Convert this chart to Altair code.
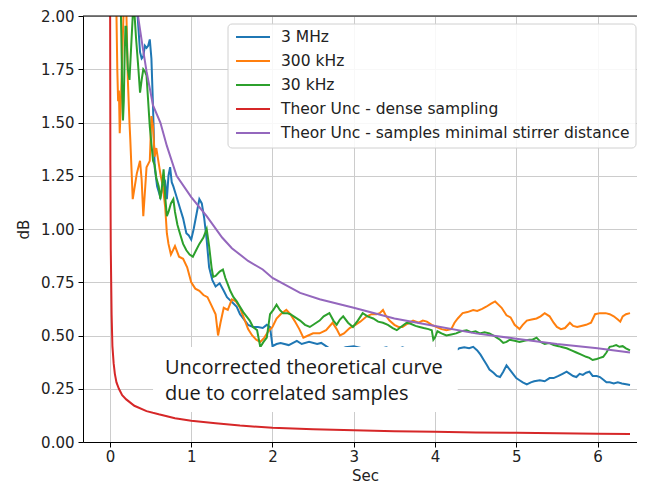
import altair as alt
import pandas as pd

# ---------------- data ----------------
x_domain = [-0.332, 6.486]
y_domain = [0.0, 2.0]
x_ticks = [0, 1, 2, 3, 4, 5, 6]
y_ticks = [0.0, 0.25, 0.5, 0.75, 1.0, 1.25, 1.5, 1.75, 2.0]

series_names = ["3 MHz", "300 kHz", "30 kHz", "Theor Unc - dense sampling",
                "Theor Unc - samples minimal stirrer distance"]
series_colors = ["#1f77b4", "#ff7f0e", "#2ca02c", "#d62728", "#9467bd"]

mhz3_x = [0.32, 0.34, 0.37, 0.39, 0.41, 0.43, 0.45, 0.47, 0.49, 0.51, 0.53, 0.55, 0.58, 0.62, 0.65,
          0.68, 0.70, 0.72, 0.74, 0.76, 0.78, 0.82, 0.86, 0.90, 0.94, 0.97, 1.00, 1.03, 1.06, 1.10,
          1.13, 1.16, 1.19, 1.22, 1.26, 1.30, 1.35, 1.40, 1.44, 1.48, 1.52, 1.56, 1.60, 1.64, 1.70,
          1.76, 1.82, 1.88, 1.93, 1.97, 2.00, 2.05, 2.10, 2.20, 2.30, 2.36, 2.45, 2.55, 2.60, 2.70,
          2.80, 2.90, 3.00, 3.10, 3.20, 3.30, 3.40, 3.50, 3.60, 3.70, 3.80, 3.90, 4.00, 4.10, 4.20,
          4.28, 4.30, 4.36, 4.42, 4.47, 4.52, 4.56, 4.60, 4.64, 4.67, 4.72, 4.76, 4.80, 4.84, 4.88,
          4.92, 4.96, 5.00, 5.04, 5.08, 5.13, 5.18, 5.22, 5.29, 5.35, 5.41, 5.46, 5.52, 5.57, 5.62,
          5.66, 5.70, 5.74, 5.78, 5.82, 5.86, 5.90, 5.94, 5.99, 6.03, 6.08, 6.11, 6.15, 6.20, 6.25,
          6.30, 6.37, 6.40]
mhz3_y = [2.10, 2.00, 1.83, 1.80, 1.81, 1.86, 1.85, 1.86, 1.89, 1.80, 1.57, 1.29, 1.20, 1.15, 1.20,
          1.22, 1.14, 1.25, 1.29, 1.22, 1.20, 1.15, 1.10, 1.05, 0.98, 0.97, 0.95, 1.00, 1.06, 1.14,
          1.12, 1.05, 0.95, 0.82, 0.76, 0.73, 0.745, 0.71, 0.68, 0.665, 0.65, 0.635, 0.60, 0.58, 0.55,
          0.54, 0.54, 0.535, 0.55, 0.54, 0.45, 0.46, 0.465, 0.455, 0.475, 0.46, 0.47, 0.46, 0.465, 0.44,
          0.43, 0.445, 0.45, 0.44, 0.43, 0.435, 0.445, 0.43, 0.445, 0.43, 0.42, 0.425, 0.43, 0.44, 0.43,
          0.435, 0.44, 0.445, 0.44, 0.447, 0.43, 0.41, 0.385, 0.36, 0.34, 0.325, 0.31, 0.305, 0.33, 0.36,
          0.34, 0.32, 0.30, 0.29, 0.28, 0.27, 0.28, 0.285, 0.29, 0.285, 0.30, 0.30, 0.31, 0.32, 0.33,
          0.32, 0.31, 0.305, 0.32, 0.315, 0.325, 0.33, 0.31, 0.31, 0.305, 0.29, 0.28, 0.28, 0.275, 0.28,
          0.275, 0.27, 0.268]

khz300_x = [0.06, 0.08, 0.09, 0.10, 0.11, 0.12, 0.13, 0.15, 0.17, 0.20, 0.22, 0.24, 0.25, 0.28, 0.33,
            0.37, 0.39, 0.41, 0.45, 0.49, 0.51, 0.53, 0.55, 0.57, 0.62, 0.65, 0.68, 0.70, 0.72, 0.75,
            0.80, 0.85, 0.90, 0.95, 1.00, 1.05, 1.10, 1.15, 1.20, 1.25, 1.30, 1.33, 1.36, 1.40, 1.45,
            1.50, 1.55, 1.60, 1.65, 1.70, 1.75, 1.80, 1.85, 1.90, 1.95, 2.00, 2.05, 2.10, 2.17, 2.22,
            2.27, 2.33, 2.38, 2.44, 2.50, 2.58, 2.66, 2.74, 2.79, 2.83, 2.88, 2.95, 3.02, 3.08, 3.16,
            3.22, 3.28, 3.32, 3.36, 3.40, 3.44, 3.50, 3.55, 3.60, 3.66, 3.73, 3.80, 3.85, 3.90, 3.96,
            4.02, 4.08, 4.14, 4.20, 4.24, 4.28, 4.34, 4.40, 4.47, 4.52, 4.58, 4.63, 4.69, 4.74, 4.78,
            4.82, 4.88, 4.93, 4.98, 5.04, 5.08, 5.13, 5.19, 5.25, 5.30, 5.35, 5.41, 5.46, 5.50, 5.55,
            5.60, 5.66, 5.70, 5.75, 5.80, 5.86, 5.92, 5.97, 6.03, 6.10, 6.15, 6.20, 6.25, 6.28, 6.31,
            6.35, 6.40]
khz300_y = [2.30, 2.00, 1.75, 1.60, 1.65, 1.45, 1.55, 1.80, 2.05, 2.05, 1.70, 1.50, 1.42, 1.14, 1.26,
            1.32, 1.23, 1.06, 1.29, 1.32, 1.53, 1.48, 1.34, 1.38, 1.26, 1.20, 1.10, 0.98, 0.93, 0.88,
            0.92, 0.87, 0.86, 0.82, 0.75, 0.72, 0.71, 0.69, 0.68, 0.64, 0.60, 0.50, 0.56, 0.63, 0.62,
            0.67, 0.66, 0.63, 0.58, 0.53, 0.50, 0.48, 0.47, 0.49, 0.52, 0.54, 0.58, 0.60, 0.62, 0.60,
            0.57, 0.53, 0.49, 0.50, 0.51, 0.51, 0.525, 0.56, 0.53, 0.50, 0.51, 0.535, 0.55, 0.565, 0.59,
            0.60, 0.60, 0.605, 0.62, 0.59, 0.57, 0.55, 0.54, 0.54, 0.555, 0.57, 0.56, 0.57, 0.565, 0.55,
            0.54, 0.53, 0.525, 0.53, 0.56, 0.58, 0.605, 0.61, 0.62, 0.615, 0.625, 0.635, 0.65, 0.66, 0.645,
            0.63, 0.595, 0.585, 0.55, 0.53, 0.55, 0.57, 0.575, 0.58, 0.59, 0.605, 0.59, 0.56, 0.54, 0.53,
            0.535, 0.56, 0.545, 0.54, 0.545, 0.55, 0.56, 0.60, 0.605, 0.605, 0.60, 0.59, 0.575, 0.565, 0.59,
            0.60, 0.605]

khz30_x = [0.12, 0.14, 0.15, 0.16, 0.17, 0.18, 0.19, 0.20, 0.22, 0.24, 0.26, 0.28, 0.30, 0.32, 0.33,
           0.35, 0.37, 0.39, 0.41, 0.43, 0.45, 0.47, 0.49, 0.51, 0.53, 0.55, 0.57, 0.60, 0.62, 0.64,
           0.66, 0.68, 0.70, 0.72, 0.75, 0.78, 0.80, 0.83, 0.86, 0.90, 0.94, 0.98, 1.02, 1.06, 1.10,
           1.15, 1.19, 1.22, 1.25, 1.27, 1.30, 1.35, 1.39, 1.42, 1.45, 1.48, 1.52, 1.56, 1.60, 1.64,
           1.68, 1.72, 1.76, 1.81, 1.85, 1.89, 1.93, 1.97, 2.01, 2.05, 2.09, 2.13, 2.18, 2.22, 2.28,
           2.34, 2.40, 2.46, 2.52, 2.58, 2.63, 2.70, 2.75, 2.79, 2.83, 2.87, 2.93, 2.99, 3.05, 3.11,
           3.17, 3.24, 3.30, 3.36, 3.42, 3.48, 3.53, 3.58, 3.65, 3.70, 3.76, 3.81, 3.86, 3.92, 3.96,
           3.98, 4.00, 4.03, 4.08, 4.14, 4.20, 4.26, 4.32, 4.39, 4.45, 4.50, 4.55, 4.61, 4.67, 4.72,
           4.76, 4.80, 4.84, 4.88, 4.92, 4.98, 5.04, 5.10, 5.16, 5.20, 5.25, 5.30, 5.35, 5.40, 5.46,
           5.52, 5.57, 5.62, 5.68, 5.74, 5.80, 5.86, 5.90, 5.94, 5.99, 6.03, 6.07, 6.11, 6.15, 6.19,
           6.23, 6.27, 6.31, 6.35, 6.40]
khz30_y = [2.30, 1.90, 1.65, 1.51, 1.60, 1.80, 1.95, 1.95, 1.75, 1.70, 1.85, 2.00, 2.02, 1.90, 1.85,
           1.75, 1.64, 1.70, 1.75, 1.74, 1.72, 1.60, 1.48, 1.40, 1.32, 1.30, 1.24, 1.20, 1.14, 1.20,
           1.28, 1.15, 1.06, 1.08, 1.12, 1.14, 1.08, 1.02, 0.98, 0.93, 0.90, 0.88, 0.87, 0.90, 0.93,
           0.96, 1.00, 0.92, 0.82, 0.775, 0.78, 0.80, 0.81, 0.77, 0.74, 0.71, 0.68, 0.66, 0.635, 0.61,
           0.59, 0.57, 0.54, 0.525, 0.446, 0.47, 0.49, 0.60, 0.62, 0.645, 0.62, 0.605, 0.605, 0.60, 0.585,
           0.57, 0.55, 0.54, 0.555, 0.57, 0.59, 0.605, 0.57, 0.55, 0.575, 0.59, 0.56, 0.54, 0.57, 0.605,
           0.59, 0.58, 0.565, 0.56, 0.55, 0.535, 0.525, 0.54, 0.56, 0.555, 0.545, 0.54, 0.535, 0.53, 0.525,
           0.48, 0.49, 0.52, 0.51, 0.50, 0.505, 0.51, 0.52, 0.525, 0.515, 0.52, 0.51, 0.515, 0.51, 0.50,
           0.49, 0.48, 0.465, 0.47, 0.48, 0.475, 0.47, 0.475, 0.48, 0.48, 0.49, 0.47, 0.46, 0.465, 0.455,
           0.45, 0.445, 0.44, 0.43, 0.42, 0.41, 0.40, 0.395, 0.385, 0.39, 0.395, 0.40, 0.42, 0.447, 0.45,
           0.455, 0.447, 0.45, 0.44, 0.43]

dense_x = [0.0, 0.002, 0.005, 0.01, 0.02, 0.03, 0.045, 0.06, 0.08, 0.11, 0.15, 0.20, 0.30, 0.45, 0.60,
           0.80, 1.0, 1.3, 1.6, 2.0, 2.5, 3.0, 3.5, 4.0, 4.5, 5.0, 5.5, 6.0, 6.4]
dense_y = [3.0, 2.0, 1.3, 0.9, 0.6, 0.45, 0.37, 0.32, 0.28, 0.25, 0.22, 0.20, 0.17, 0.145, 0.13,
           0.112, 0.10, 0.088, 0.077, 0.067, 0.060, 0.055, 0.051, 0.048, 0.045, 0.043, 0.041, 0.039, 0.038]

minimal_x = [0.30, 0.345, 0.40, 0.45, 0.53, 0.62, 0.70, 0.82, 1.00, 1.19, 1.38, 1.50, 1.70, 1.88, 2.00,
             2.34, 2.58, 3.00, 3.50, 4.00, 4.50, 5.00, 5.50, 6.00, 6.40]
minimal_y = [2.20, 2.00, 1.86, 1.74, 1.58, 1.50, 1.39, 1.25, 1.15, 1.06, 0.96, 0.91, 0.85, 0.81, 0.77,
             0.70, 0.67, 0.63, 0.58, 0.545, 0.51, 0.485, 0.46, 0.44, 0.42]

# annotation (white box + text), in data units
note_lines = ["Uncorrected theoretical curve", "due to correlated samples"]
note_x = [0.677, 0.677]
note_y = [0.319, 0.197]
box_x = [0.53, 4.28]
box_y = [0.141, 0.446]

# ---------------- chart ----------------
W, H = 554, 426

x_axis = alt.Axis(values=x_ticks, format="d", title="Sec", grid=True, tickSize=5, labelPadding=2,
                  titleX=282, titleY=38, titleBaseline="alphabetic", titleAlign="center")
y_axis = alt.Axis(values=y_ticks, format=".2f", title="dB", grid=True, tickSize=5, labelPadding=4,
                  titleX=-60, titleY=H / 2, titleAngle=270, titleBaseline="middle", titleAlign="center")
xs = alt.Scale(domain=x_domain, nice=False, zero=False)
ys = alt.Scale(domain=y_domain, nice=False, zero=False)


def line_layer(xv, yv, color):
    df = pd.DataFrame({"x": xv, "y": yv})
    return alt.Chart(df).mark_line(color=color, strokeWidth=2, clip=True).encode(
        x=alt.X("x:Q", scale=xs, axis=x_axis),
        y=alt.Y("y:Q", scale=ys, axis=y_axis),
    )


layers = [
    line_layer(mhz3_x, mhz3_y, series_colors[0]),
    line_layer(khz300_x, khz300_y, series_colors[1]),
    line_layer(khz30_x, khz30_y, series_colors[2]),
    line_layer(dense_x, dense_y, series_colors[3]),
    line_layer(minimal_x, minimal_y, series_colors[4]),
]

box_df = pd.DataFrame({"x0": [box_x[0]], "x1": [box_x[1]], "y0": [box_y[0]], "y1": [box_y[1]]})
layers.append(alt.Chart(box_df).mark_rect(fill="white", clip=True).encode(
    x=alt.X("x0:Q", scale=xs), x2="x1:Q", y=alt.Y("y0:Q", scale=ys), y2="y1:Q"))

note_df = pd.DataFrame({"x": note_x, "y": note_y, "t": note_lines})
layers.append(alt.Chart(note_df).mark_text(align="left", baseline="alphabetic", font="Open Sans",
                                           fontSize=20, color="#1a1a1a").encode(
    x=alt.X("x:Q", scale=xs), y=alt.Y("y:Q", scale=ys), text="t:N"))

one = pd.DataFrame({"a": [0]})
# top spine
layers.append(alt.Chart(one).mark_rule(color="black", strokeWidth=1).encode(
    x=alt.value(0), x2=alt.value(W), y=alt.value(0)))

# legend box
layers.append(alt.Chart(one).mark_rect(fill="white", fillOpacity=0.85, stroke="#d0d0d0",
                                       strokeWidth=1, cornerRadius=4).encode(
    x=alt.value(145), x2=alt.value(553), y=alt.value(8), y2=alt.value(132)))

for i, (name, col) in enumerate(zip(series_names, series_colors)):
    yp = 21 + 24 * i
    layers.append(alt.Chart(one).mark_rule(color=col, strokeWidth=2).encode(
        x=alt.value(153), x2=alt.value(187), y=alt.value(yp)))
    layers.append(alt.Chart(one).mark_text(text=name, align="left", baseline="middle",
                                           font="DejaVu Sans", fontSize=15.5, color="#222222").encode(
        x=alt.value(198), y=alt.value(yp)))

chart = alt.layer(*layers).properties(
    width=W, height=H,
    padding={"left": 75, "top": 8, "right": 0, "bottom": 42},
    autosize=alt.AutoSizeParams(type="none"),
).configure_view(strokeWidth=0).configure_axis(
    gridColor="#cccccc", gridWidth=1, domainColor="black", tickColor="black",
    labelFont="DejaVu Sans", labelFontSize=15, labelColor="#222222",
    titleFont="DejaVu Sans", titleFontSize=15, titleFontWeight="normal", titleColor="#222222",
)

chart.save("out.html", embed_options={"renderer": "svg", "actions": False})
